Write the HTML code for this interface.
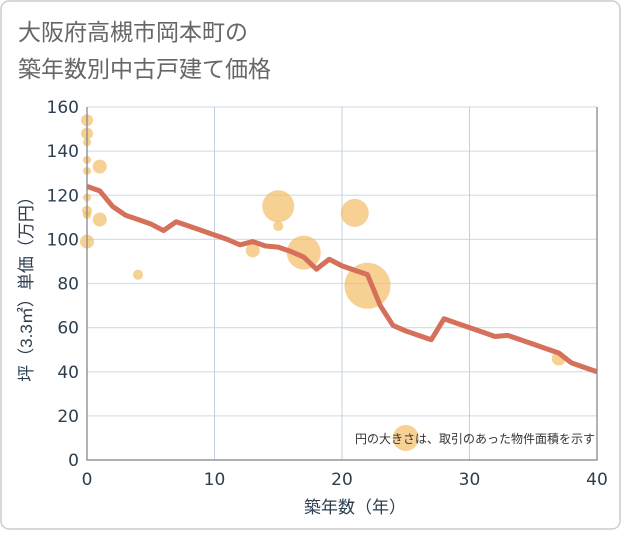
<!DOCTYPE html>
<html><head><meta charset="utf-8"><style>
body{margin:0;background:#fff;font-family:"Liberation Sans","Noto Sans CJK JP",sans-serif}
#wrap{position:relative;width:621px;height:530px}
</style></head><body>
<div id="wrap">
<svg id="svg" width="621" height="530" xmlns="http://www.w3.org/2000/svg">
<rect x="1" y="1" width="619" height="528" rx="8" fill="#fff" stroke="#ccc" stroke-width="1.5"/>
<text x="18" y="40" font-size="23" fill="#666" font-family="'DejaVu Sans','Noto Sans CJK JP',sans-serif">大阪府高槻市岡本町の</text>
<text x="18" y="77" font-size="23" fill="#666" font-family="'DejaVu Sans','Noto Sans CJK JP',sans-serif">築年数別中古戸建て価格</text>
<g id="grid"></g><g id="bubbles"></g><g id="line"></g><g id="axes"></g>
<text x="595" y="443" font-size="12" fill="#333" text-anchor="end">円の大きさは、取引のあった物件面積を示す</text>
<text x="355" y="513" font-size="17" fill="#2d3e50" text-anchor="middle">築年数（年）</text>
<text transform="translate(32,285) rotate(-90)" font-size="17" fill="#2d3e50" text-anchor="middle">坪（3.3㎡）単価（万円）</text>
</svg>
</div>
<script>
const xTicks=[0,10,20,30,40];
const yTicks=[0,20,40,60,80,100,120,140,160];
const lineYears=[0,1,2,3,4,5,6,7,8,9,10,11,12,13,14,15,16,17,18,19,20,21,22,23,24,25,26,27,28,29,30,31,32,33,34,35,36,37,38,39,40];
const lineValues=[124,122,115,111,109,107,104,108,106,104,102,100,97.5,99,97,96.5,94.5,92,86.5,91,88,86,84,70,61,58.5,56.5,54.5,64,62,60,58,56,56.5,54.5,52.5,50.5,48.5,44,42,40];
const bubbleYears=[0,0,0,0,0,0,0,0,0,1,1,4,13,15,15,17,21,22,25,37];
const bubbleValues=[154,148,144,136,131,119,113,111,99,133,109,84,95,115,106,94,112,79,10,46];
const bubbleSizes=[6,6,4,4,4,4,5,4,7,7,7,5,7,16,5,17,14,23,13,7];
const X0=87,X1=597,Y0=460,Y1=107;
const sx=v=>X0+(v-0)/40*(X1-X0);
const sy=v=>Y0-(v/160)*(Y0-Y1);
const NS="http://www.w3.org/2000/svg";
function mk(t,a,p){const e=document.createElementNS(NS,t);for(const k in a)e.setAttribute(k,a[k]);p.appendChild(e);return e;}
const grid=document.getElementById('grid'),axes=document.getElementById('axes');
const TF="'DejaVu Sans',sans-serif";
yTicks.forEach(v=>{
 const l=mk('line',{x1:X0,x2:X1,y1:sy(v),y2:sy(v),stroke:'#d5e0ec','stroke-width':1.3},grid);
 
 
 const t=mk('text',{x:X0-8,y:sy(v)+6,'font-size':17,fill:'#2d3e50','text-anchor':'end','font-family':TF},axes);
 t.textContent=v;
 
 
});
xTicks.forEach(v=>{
 const l=mk('line',{x1:sx(v),x2:sx(v),y1:Y1,y2:Y0,stroke:'#c3d0de','stroke-width':1},grid);
 
 
 const t=mk('text',{x:sx(v),y:Y0+25,'font-size':17,fill:'#2d3e50','text-anchor':'middle','font-family':TF},axes);
 t.textContent=v;
 
 
});
const ax=mk('path',{d:`M${X0},${Y1} V${Y0} H${X1} V${Y1}`,fill:'none',stroke:'#888','stroke-width':1.3},axes);


const bg=document.getElementById('bubbles');
bubbleYears.forEach((y,i)=>{
 const c=mk('circle',{cx:sx(y),cy:sy(bubbleValues[i]),r:bubbleSizes[i],fill:'#f3b85a','fill-opacity':0.65},bg);
 
 
});
const pts=lineYears.map((y,i)=>sx(y)+','+sy(lineValues[i])).join(' ');
const pl=mk('polyline',{points:pts,fill:'none',stroke:'#d5705a','stroke-width':5,'stroke-linejoin':'round'},document.getElementById('line'));


</script>
</body></html>
